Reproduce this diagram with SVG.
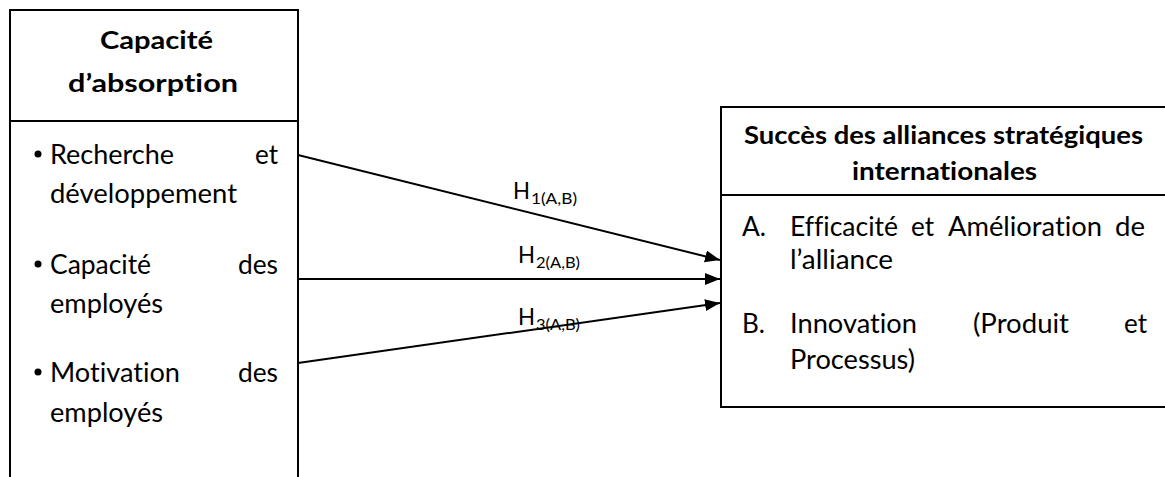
<svg xmlns="http://www.w3.org/2000/svg" width="1165" height="477" viewBox="0 0 1165 477">
<style>
  .box { fill: #fff; stroke: #000; stroke-width: 2; }
  .div { stroke: #000; stroke-width: 2; }
  text { font-family: Lato, "Open Sans", sans-serif; fill: #000; font-variant-ligatures: none; }
  .t { font-size: 27px; }
  .b { font-size: 25px; font-weight: bold; }
  .h { font-size: 23px; }
  .s { font-size: 16px; }
  .c { stroke: #000; stroke-width: 2; fill: none; marker-end: url(#ah); }
</style>
<defs>
  <marker id="ah" markerUnits="userSpaceOnUse" markerWidth="16" markerHeight="14" refX="15" refY="6" orient="auto">
    <path d="M0,0 L15,6 L0,12 z" fill="#000"/>
  </marker>
</defs>
<rect width="1165" height="477" fill="#fff"/>

<g id="node-capacite">
  <rect class="box" x="10" y="10" width="288" height="480"/>
  <line class="div" x1="10" y1="121" x2="298" y2="121"/>
  <text class="b" x="100" y="49" textLength="113" lengthAdjust="spacingAndGlyphs">Capacité</text>
  <text class="b" x="68" y="92" textLength="170" lengthAdjust="spacingAndGlyphs">d’absorption</text>
  <circle cx="38" cy="154" r="3.5" fill="#000"/>
  <text class="t" x="50" y="164" textLength="124" lengthAdjust="spacingAndGlyphs">Recherche</text>
  <text class="t" x="255" y="164" textLength="23" lengthAdjust="spacingAndGlyphs">et</text>
  <text class="t" x="50" y="203" textLength="187" lengthAdjust="spacingAndGlyphs">développement</text>
  <circle cx="38" cy="264" r="3.5" fill="#000"/>
  <text class="t" x="50" y="274" textLength="101" lengthAdjust="spacingAndGlyphs">Capacité</text>
  <text class="t" x="238" y="274" textLength="40" lengthAdjust="spacingAndGlyphs">des</text>
  <text class="t" x="50" y="313" textLength="113" lengthAdjust="spacingAndGlyphs">employés</text>
  <circle cx="38" cy="372" r="3.5" fill="#000"/>
  <text class="t" x="50" y="382" textLength="130" lengthAdjust="spacingAndGlyphs">Motivation</text>
  <text class="t" x="238" y="382" textLength="40" lengthAdjust="spacingAndGlyphs">des</text>
  <text class="t" x="50" y="422" textLength="113" lengthAdjust="spacingAndGlyphs">employés</text>
</g>

<g id="node-succes">
  <rect class="box" x="721" y="107" width="460" height="300"/>
  <line class="div" x1="721" y1="195" x2="1170" y2="195"/>
  <text class="b" x="744" y="144" textLength="399" lengthAdjust="spacingAndGlyphs">Succès des alliances stratégiques</text>
  <text class="b" x="852" y="180" textLength="185" lengthAdjust="spacingAndGlyphs">internationales</text>
  <text class="t" x="742" y="236" textLength="24" lengthAdjust="spacingAndGlyphs">A.</text>
  <text class="t" x="790" y="236" textLength="108" lengthAdjust="spacingAndGlyphs">Ef&#x200C;f&#x200C;icacité</text>
  <text class="t" x="911" y="236" textLength="23" lengthAdjust="spacingAndGlyphs">et</text>
  <text class="t" x="948" y="236" textLength="154" lengthAdjust="spacingAndGlyphs">Amélioration</text>
  <text class="t" x="1115" y="236" textLength="30" lengthAdjust="spacingAndGlyphs">de</text>
  <text class="t" x="790" y="269" textLength="103" lengthAdjust="spacingAndGlyphs">l’alliance</text>
  <text class="t" x="742" y="333" textLength="23" lengthAdjust="spacingAndGlyphs">B.</text>
  <text class="t" x="790" y="333" textLength="127" lengthAdjust="spacingAndGlyphs">Innovation</text>
  <text class="t" x="973" y="333" textLength="96" lengthAdjust="spacingAndGlyphs">(Produit</text>
  <text class="t" x="1124" y="333" textLength="23" lengthAdjust="spacingAndGlyphs">et</text>
  <text class="t" x="790" y="369" textLength="125" lengthAdjust="spacingAndGlyphs">Processus)</text>
</g>

<g id="connectors">
  <line class="c" x1="298" y1="155" x2="720" y2="260"/>
  <line class="c" x1="298" y1="279" x2="720" y2="279"/>
  <line class="c" x1="298" y1="363" x2="720" y2="303"/>
  <text class="h" x="513" y="199" textLength="17" lengthAdjust="spacingAndGlyphs">H</text>
  <text class="s" x="531" y="204" textLength="46" lengthAdjust="spacingAndGlyphs">1(A,B)</text>
  <text class="h" x="518" y="263" textLength="17" lengthAdjust="spacingAndGlyphs">H</text>
  <text class="s" x="536" y="268" textLength="44" lengthAdjust="spacingAndGlyphs">2(A,B)</text>
  <text class="h" x="518" y="325" textLength="17" lengthAdjust="spacingAndGlyphs">H</text>
  <text class="s" x="536" y="330" textLength="44" lengthAdjust="spacingAndGlyphs">3(A,B)</text>
</g>
</svg>
